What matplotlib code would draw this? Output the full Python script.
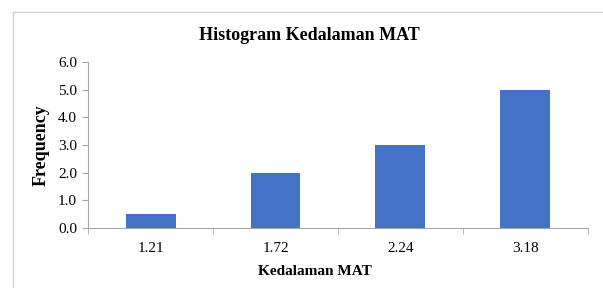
import matplotlib.pyplot as plt
from matplotlib.patches import Rectangle

plt.rcParams['font.family'] = ['Liberation Serif', 'DejaVu Serif']

kedalaman = ["1.21", "1.72", "2.24", "3.18"]
frekuensi = [0.5, 2.0, 3.0, 5.0]

fig = plt.figure(figsize=(6.03, 2.88), dpi=100)
ax = fig.add_axes([0.146, 0.208, 0.829, 0.577])

pos = list(range(len(kedalaman)))
ax.bar(pos, frekuensi, width=0.4, color="#4472C4")

ax.set_xlim(-0.5, len(kedalaman) - 0.5)
ax.set_ylim(0, 6)
ax.set_yticks([0, 1, 2, 3, 4, 5, 6])
ax.set_yticklabels([f"{v:.1f}" for v in range(7)], fontsize=11)
ax.set_xticks(pos)
ax.set_xticklabels(kedalaman, fontsize=11)
ax.set_xticks([p - 0.5 for p in range(len(kedalaman) + 1)], minor=True)
ax.tick_params(axis='x', which='major', length=0, pad=10)
ax.tick_params(axis='x', which='minor', length=4, color="#A6A6A6")
ax.tick_params(axis='y', length=4, color="#A6A6A6", pad=4)

for s in ['top', 'right']:
    ax.spines[s].set_visible(False)
for s in ['left', 'bottom']:
    ax.spines[s].set_color("#A6A6A6")
    ax.spines[s].set_linewidth(0.8)

fig.text(309 / 603, 1 - 35 / 288, "Histogram Kedalaman MAT", fontsize=13,
         fontweight='bold', ha='center', va='center')
ax.set_ylabel("Frequency", fontsize=13, fontweight='bold', labelpad=6)
ax.set_xlabel("Kedalaman MAT", fontsize=11, fontweight='bold', labelpad=10)
ax.xaxis.set_label_coords(0.454, -0.222)

fig.patches.append(Rectangle((13 / 603, -0.05), 0.99, 1 - 12 / 288 + 0.05,
                             transform=fig.transFigure, fill=False,
                             edgecolor="#D0D0D0", linewidth=1))

fig.savefig("out.png", dpi=100)
